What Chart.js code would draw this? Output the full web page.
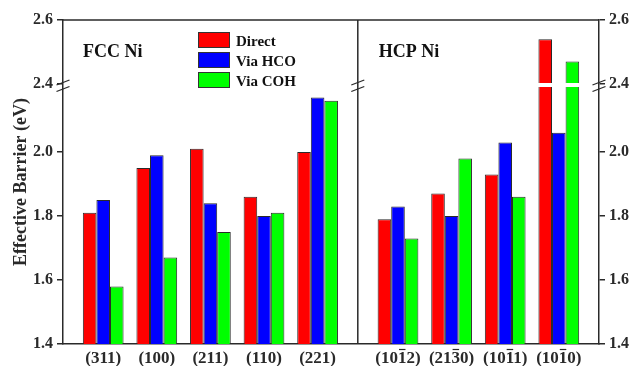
<!DOCTYPE html>
<html><head><meta charset="utf-8">
<script src="https://cdn.jsdelivr.net/npm/chart.js@4.4.0/dist/chart.umd.min.js"></script>
<style>html,body{margin:0;padding:0;background:#fff;}#wrap{width:634px;height:366px;}</style>
</head><body><div id="wrap"><canvas id="c" width="634" height="366"></canvas></div>
<script>
// ---- data ----
const fccLabels = ['(311)', '(100)', '(211)', '(110)', '(221)'];
const hcpLabels = ['(101\u03052)', '(213\u03050)', '(101\u03051)', '(101\u03050)'];
const seriesNames = ['Direct', 'Via HCO', 'Via COH'];
const fccDirect = [1.81, 1.95, 2.01, 1.86, 2.00];
const fccHCO    = [1.85, 1.99, 1.84, 1.80, 2.17];
const fccCOH    = [1.58, 1.67, 1.75, 1.81, 2.16];
const hcpDirect = [1.79, 1.87, 1.93, 2.54];
const hcpHCO    = [1.83, 1.80, 2.03, 2.06];
const hcpCOH    = [1.73, 1.98, 1.86, 2.47];
const yTicks = [1.4, 1.6, 1.8, 2.0, 2.4, 2.6];
const panelTitles = ['FCC Ni', 'HCP Ni'];

// ---- broken axis mapping (2.2 .. 2.4 removed) ----
const BREAK_LO = 2.2, BREAK_HI = 2.4, GAP = 0.0125;
const toAxis = v => v <= BREAK_LO ? v : v - (BREAK_HI - BREAK_LO) + GAP;
const fromAxis = d => d <= BREAK_LO + GAP / 2 ? d : d + (BREAK_HI - BREAK_LO) - GAP;

// ---- layout of groups on a 0..10 x range ----
const fccPos = i => 0.75 + i;
const hcpPos = i => 6.25 + i;
const DIVIDER = 5.5;
const xPositions = [...fccLabels.map((_, i) => fccPos(i)), ...hcpLabels.map((_, i) => hcpPos(i))];
const xLabels = [...fccLabels, ...hcpLabels];

const colors = ['#ff0000', '#0000ff', '#00ff00'];
const series = [[fccDirect, hcpDirect], [fccHCO, hcpHCO], [fccCOH, hcpCOH]];
const FONT = "'Liberation Serif', 'Times New Roman', serif";
const INK = '#2a2a2a';

const datasets = series.map((s, k) => ({
  label: seriesNames[k],
  data: [...s[0].map((v, i) => ({x: fccPos(i), y: toAxis(v)})),
         ...s[1].map((v, i) => ({x: hcpPos(i), y: toAxis(v)}))],
  backgroundColor: colors[k],
  borderColor: '#2a2a2a',
  borderWidth: 1,
  categoryPercentage: 0.76,
  barPercentage: 1.0,
  xAxisID: 'x', yAxisID: 'y'
}));

const yCommon = {
  type: 'linear', min: 1.4, max: toAxis(2.6),
  afterBuildTicks: s => { s.ticks = yTicks.map(v => ({value: toAxis(v)})); },
  ticks: {callback: v => fromAxis(v).toFixed(1), font: {family: FONT, size: 16, weight: 'bold'}, color: INK, padding: 4},
  grid: {drawOnChartArea: false, tickLength: 6, color: INK, lineWidth: 1.5},
  border: {color: INK, width: 1.5}
};

const deco = {
  id: 'deco',
  afterDatasetsDraw(chart) {
    const {ctx, chartArea: a, scales: {x, y}} = chart;
    const yTop = y.getPixelForValue(BREAK_LO + GAP), yBot = y.getPixelForValue(BREAK_LO);
    ctx.save();
    // gap through the bars
    ctx.fillStyle = '#fff';
    ctx.fillRect(a.left + 1.5, yTop - 1, a.right - a.left - 3, yBot - yTop);
    // frame top + divider
    ctx.strokeStyle = INK; ctx.lineWidth = 1.5;
    ctx.beginPath();
    ctx.moveTo(a.left, a.top); ctx.lineTo(a.right, a.top);
    const xd = x.getPixelForValue(DIVIDER);
    ctx.moveTo(xd, a.top); ctx.lineTo(xd, a.bottom);
    ctx.stroke();
    // break marks
    ctx.lineWidth = 1.3;
    [a.left, xd, a.right].forEach(x0 => {
      [yTop - 1.5, yBot + 1].forEach(yy => {
        ctx.beginPath();
        ctx.moveTo(x0 - 6.5, yy + 2.5); ctx.lineTo(x0 + 6.5, yy - 2.5);
        ctx.stroke();
      });
    });
    // panel titles
    ctx.fillStyle = '#111';
    ctx.font = `bold 18px ${FONT}`;
    ctx.textBaseline = 'alphabetic';
    ctx.textAlign = 'left';
    ctx.fillText(panelTitles[0], a.left + 20, a.top + 36.5);
    ctx.fillText(panelTitles[1], xd + 21, a.top + 36.5);
    // legend
    ctx.font = `bold 15px ${FONT}`;
    chart.data.datasets.forEach((ds, k) => {
      const bx = a.left + 135, by = a.top + 12 + k * 20;
      ctx.fillStyle = ds.backgroundColor;
      ctx.fillRect(bx, by, 32, 16);
      ctx.strokeStyle = '#333'; ctx.lineWidth = 1;
      ctx.strokeRect(bx + 0.5, by + 0.5, 31, 15);
      ctx.fillStyle = '#111';
      ctx.fillText(ds.label, bx + 38, by + 13.5);
    });
    // x category labels (overline marked by U+0305 after the barred digit)
    ctx.font = `bold 17px ${FONT}`;
    ctx.fillStyle = INK;
    const base = a.bottom + 19;
    xLabels.forEach((lab, i) => {
      const cx = x.getPixelForValue(xPositions[i]);
      const j = lab.indexOf('\u0305');
      const plain = lab.replace('\u0305', '');
      const w = ctx.measureText(plain).width;
      const x0 = cx - w / 2;
      ctx.fillText(plain, x0, base);
      if (j > 0) {
        const pre = ctx.measureText(plain.slice(0, j - 1)).width;
        const cw = ctx.measureText(plain.charAt(j - 1)).width;
        ctx.strokeStyle = INK; ctx.lineWidth = 1.2;
        ctx.beginPath();
        ctx.moveTo(x0 + pre + 1, base - 13.5); ctx.lineTo(x0 + pre + cw - 1, base - 13.5);
        ctx.stroke();
      }
    });
    ctx.restore();
  }
};

new Chart(document.getElementById('c'), {
  type: 'bar',
  data: {datasets},
  options: {
    responsive: false, animation: false, devicePixelRatio: 1,
    layout: {padding: {top: 20, left: 0, right: 0, bottom: 0}},
    plugins: {legend: {display: false}, tooltip: {enabled: false}},
    scales: {
      x: {
        type: 'linear', min: 0, max: 10, offset: false,
        afterBuildTicks: s => { s.ticks = xPositions.map(v => ({value: v})); },
        ticks: {display: false},
        grid: {drawOnChartArea: false, drawTicks: false},
        border: {color: INK, width: 1.5},
        afterFit: s => { s.height = 22; }
      },
      y: Object.assign({}, yCommon, {
        position: 'left',
        title: {display: true, text: 'Effective Barrier (eV)', font: {family: FONT, size: 18, weight: 'bold'}, color: INK, padding: {top: 11, bottom: 0}},
        afterFit: s => { s.width = 63; }
      }),
      y2: Object.assign({}, yCommon, {
        position: 'right',
        afterFit: s => { s.width = 35; }
      })
    }
  },
  plugins: [deco]
});
</script></body></html>
